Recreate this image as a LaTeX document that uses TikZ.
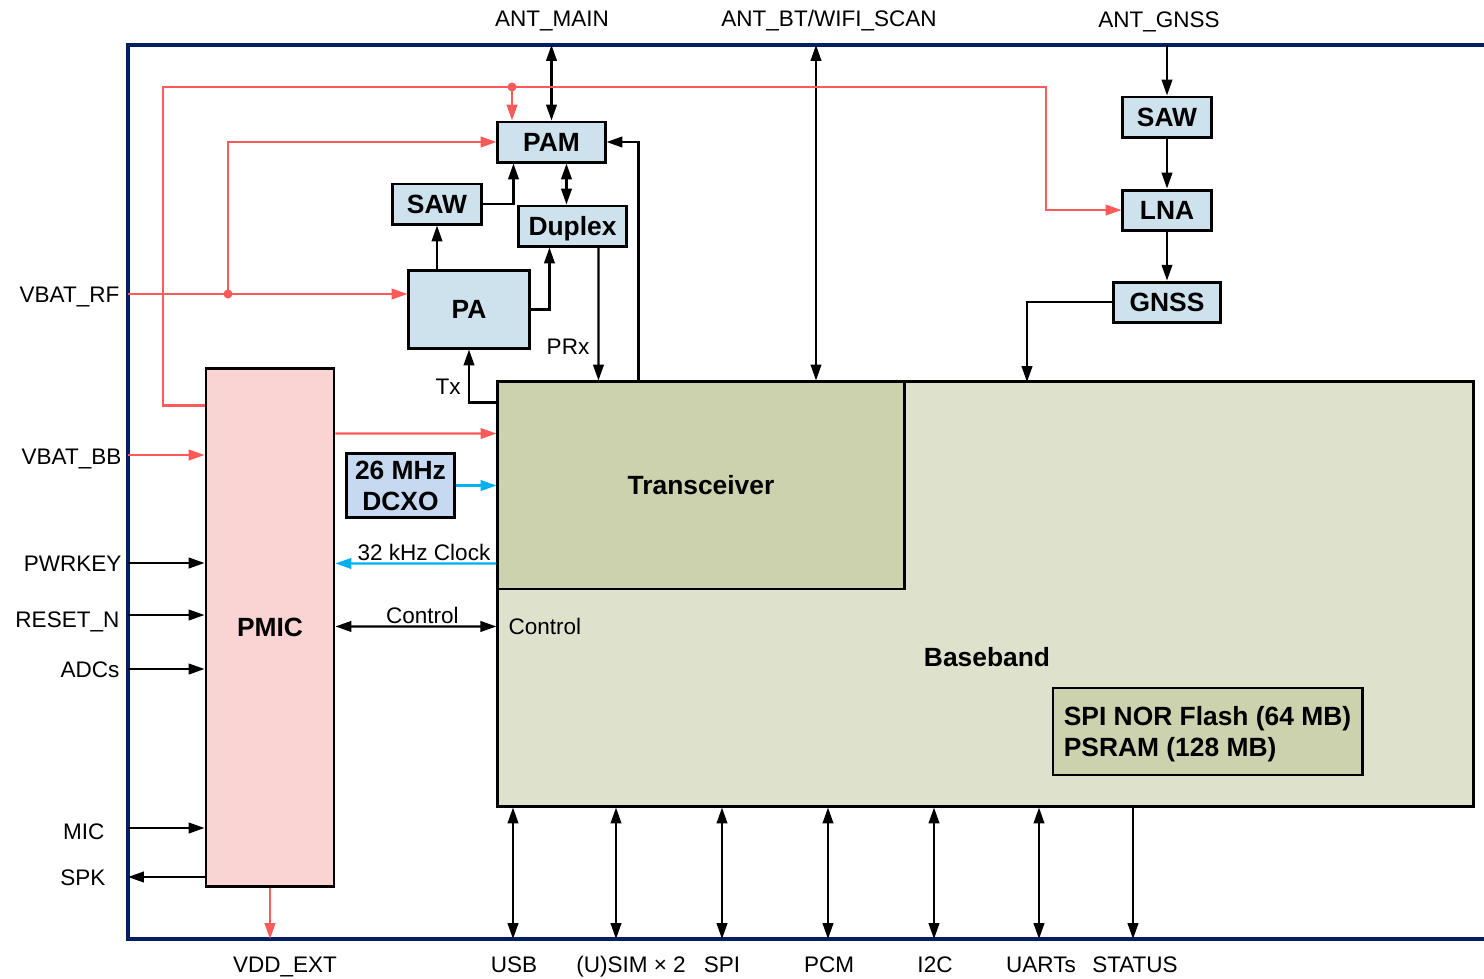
\documentclass[tikz,border=0pt]{standalone}
\usepackage{fontspec}
\setmainfont{Liberation Sans}
\usetikzlibrary{arrows.meta, positioning, calc}
\definecolor{navy}{RGB}{0,32,96}
\definecolor{pwrred}{RGB}{255,90,90}
\definecolor{clkblue}{RGB}{0,176,240}
\definecolor{rfblue}{RGB}{205,226,236}
\definecolor{xoblue}{RGB}{198,217,241}
\definecolor{trxgreen}{RGB}{204,210,173}
\definecolor{bbgreen}{RGB}{222,226,205}
\definecolor{pmicpink}{RGB}{250,211,211}
\newcommand{\blkfont}{\fontsize{7.5}{8.8}\selectfont\bfseries}
\newcommand{\pinfont}{\fontsize{6.4}{7.6}\selectfont}
\tikzset{
    rfbox/.style={rectangle, draw=black, line width=0.85pt, fill=rfblue, inner sep=0pt, font=\blkfont, align=center},
    chipbox/.style={rectangle, draw=black, line width=0.8pt, inner sep=0pt, font=\blkfont, align=center},
    sig/.style={-{Triangle[length=4.5pt, width=3pt]}, line width=0.6pt, black},
    bisig/.style={{Triangle[length=4.5pt, width=3pt]}-{Triangle[length=4.5pt, width=3pt]}, line width=0.6pt, black},
    pwr/.style={sig, pwrred},
    clk/.style={sig, clkblue},
    pin/.style={font=\pinfont, inner sep=0pt, text=black},
}

\begin{document}
\begin{tikzpicture}[x=0.01cm, y=-0.01cm, line join=miter]
\useasboundingbox (0,0) rectangle (1484,978);

% Module outline (open on the right)
\coordinate (ftop) at (128,45);
\coordinate (fbot) at (128,939);
\draw[navy, line width=1.2pt] (1484,45) -- (ftop) -- (fbot) -- (1484,939);

% Baseband + transceiver
\node[chipbox, fill=bbgreen, minimum width=9.75cm, minimum height=4.24cm] (bb) at (985.5,594) {};
\node[chipbox, fill=trxgreen, minimum width=4.06cm, minimum height=2.07cm] (trx) at (701,485.5) {Transceiver};
\node[font=\blkfont] (bblbl) at (987,657) {Baseband};
\node[pin, anchor=west] (bbctl) at (508,626) {Control};
\node[chipbox, fill=trxgreen, minimum width=3.09cm, minimum height=0.87cm, align=left, text depth=0pt] (mem) at (1207.5,731.5) {SPI NOR Flash (64 MB)\\PSRAM (128 MB)};

% PMIC and clock
\node[chipbox, fill=pmicpink, minimum width=1.28cm, minimum height=5.17cm] (pmic) at (270,627.5) {PMIC};
\node[chipbox, fill=xoblue, line width=0.85pt, minimum width=1.07cm, minimum height=0.63cm] (xo) at (400.5,485.5) {26 MHz\\DCXO};

% RF front end
\node[rfbox, minimum width=1.07cm, minimum height=0.40cm] (pam) at (551.5,142) {PAM};
\node[rfbox, minimum width=0.88cm, minimum height=0.40cm] (saw) at (437,204) {SAW};
\node[rfbox, minimum width=1.07cm, minimum height=0.40cm, text depth=0pt] (dup) at (572.5,226) {Duplex};
\node[rfbox, minimum width=1.20cm, minimum height=0.77cm] (pa) at (469,309.5) {PA};

% GNSS chain
\node[rfbox, minimum width=0.88cm, minimum height=0.40cm] (gsaw) at (1167,117) {SAW};
\node[rfbox, minimum width=0.88cm, minimum height=0.40cm, below=0.50cm of gsaw] (lna) {LNA};
\node[rfbox, minimum width=1.06cm, minimum height=0.40cm, below=0.49cm of lna] (gnss) {GNSS};

% Antenna pins
\node[pin, anchor=base] (antmain) at (552,26) {ANT\_MAIN};
\node[pin, anchor=base] (antbt) at (829,26) {ANT\_BT/WIFI\_SCAN};
\node[pin, anchor=base] (antgnss) at (1159,27) {ANT\_GNSS};
\coordinate (pbt) at (816,45);
\draw[bisig] (pam.north) -- (pam.north |- ftop);
\draw[bisig] (pbt) -- (pbt |- bb.north);
\draw[sig] (gsaw.north |- ftop) -- (gsaw.north);
\draw[sig] (gsaw) -- (lna);
\draw[sig] (lna) -- (gnss);
\coordinate (gnssin) at (1027,382);
\draw[sig] (gnss.west) -| (gnssin);

% Power rails
\coordinate (railL) at (163,87);
\coordinate (railR) at (1046,87);
\coordinate (pamtap) at (512,87);
\draw[pwr] ($(pmic.north west)+(0,38)$) -| (railL) -- (railR) |- (lna.west);
\draw[pwr] (pamtap) -- (pamtap |- pam.north);
\fill[pwrred] (pamtap) circle[radius=0.045cm];

\coordinate (pvrf) at (128,294);
\coordinate (rftap) at (228,294);
\node[pin, anchor=base east] (vbatrf) at (120,302) {VBAT\_RF};
\draw[pwr] (pvrf) -- (pvrf -| pa.west);
\draw[pwr] (rftap) |- (pam.west);
\fill[pwrred] (rftap) circle[radius=0.045cm];

% RF paths
\draw[sig] (pa.north -| saw.south) -- (saw.south);
\draw[sig] (saw.east) -| ($(pam.south west)+(17,0)$);
\draw[bisig] ($(pam.south west)+(70,0)$) -- ($(dup.north west)+(49,0)$);
\draw[sig] (pa.east) -| ($(dup.south west)+(32,0)$);
\draw[sig] ($(dup.south west)+(81,0)$) -- ($(trx.north west)+(102,0)$);
\node[pin] (prx) at (568,347) {PRx};
\draw[sig] ($(trx.north west)+(142,0)$) |- (pam.east);
\draw[sig] ($(trx.north west)+(0,22)$) -| (pa.south);
\node[pin] (tx) at (448,387) {Tx};

% PMIC <-> baseband
\draw[pwr] ($(pmic.north east)+(0,66)$) -- ($(trx.north west)+(0,53)$);
\draw[clk] (xo.east) -- (xo.east -| trx.west);
\draw[clk] ($(trx.north west)+(0,183)$) -- ($(pmic.north east)+(0,196)$) node[pin, pos=0.45, above=0.6pt] {32 kHz Clock};
\draw[bisig] ($(pmic.north east)+(0,259)$) -- ($(bb.north west)+(0,246)$) node[pin, pos=0.54, above=0.6pt] {Control};

% Left pins
\coordinate (pvbb) at (128,455);
\coordinate (ppwr) at (128,563);
\coordinate (prst) at (128,615);
\coordinate (padc) at (128,669);
\coordinate (pmicin) at (128,828);
\coordinate (pspk) at (128,877);
\node[pin, anchor=base east] (vbatbb) at (122,464) {VBAT\_BB};
\node[pin, anchor=base east] (pwrkey) at (122,571) {PWRKEY};
\node[pin, anchor=base east] (rstn) at (120,627) {RESET\_N};
\node[pin, anchor=base east] (adcs) at (120,677) {ADCs};
\node[pin, anchor=base east] (mic) at (105,839) {MIC};
\node[pin, anchor=base east] (spk) at (106,885) {SPK};
\draw[pwr] (pvbb) -- (pvbb -| pmic.west);
\draw[sig] (ppwr) -- (ppwr -| pmic.west);
\draw[sig] (prst) -- (prst -| pmic.west);
\draw[sig] (padc) -- (padc -| pmic.west);
\draw[sig] (pmicin) -- (pmicin -| pmic.west);
\draw[sig] (pspk -| pmic.west) -- (pspk);

% Bottom pins
\draw[pwr] (pmic.south) -- (pmic.south |- fbot);
\coordinate (pusb) at (513,939);
\coordinate (psim) at (616,939);
\coordinate (pspi) at (722,939);
\coordinate (ppcm) at (828,939);
\coordinate (pi2c) at (934,939);
\coordinate (puart) at (1039,939);
\coordinate (pstat) at (1133,939);
\draw[bisig] (pusb |- bb.south) -- (pusb);
\draw[bisig] (psim |- bb.south) -- (psim);
\draw[bisig] (pspi |- bb.south) -- (pspi);
\draw[bisig] (ppcm |- bb.south) -- (ppcm);
\draw[bisig] (pi2c |- bb.south) -- (pi2c);
\draw[bisig] (puart |- bb.south) -- (puart);
\draw[sig] (pstat |- bb.south) -- (pstat);
\node[pin, anchor=base] (vddext) at (285,972) {VDD\_EXT};
\node[pin, anchor=base] (usb) at (514,972) {USB};
\node[pin, anchor=base] (sim) at (631,972) {(U)SIM × 2};
\node[pin, anchor=base] (spi) at (722,972) {SPI};
\node[pin, anchor=base] (pcm) at (829,972) {PCM};
\node[pin, anchor=base] (i2c) at (935,972) {I2C};
\node[pin, anchor=base] (uart) at (1041,972) {UARTs};
\node[pin, anchor=base] (status) at (1135,972) {STATUS};

\end{tikzpicture}
\end{document}
